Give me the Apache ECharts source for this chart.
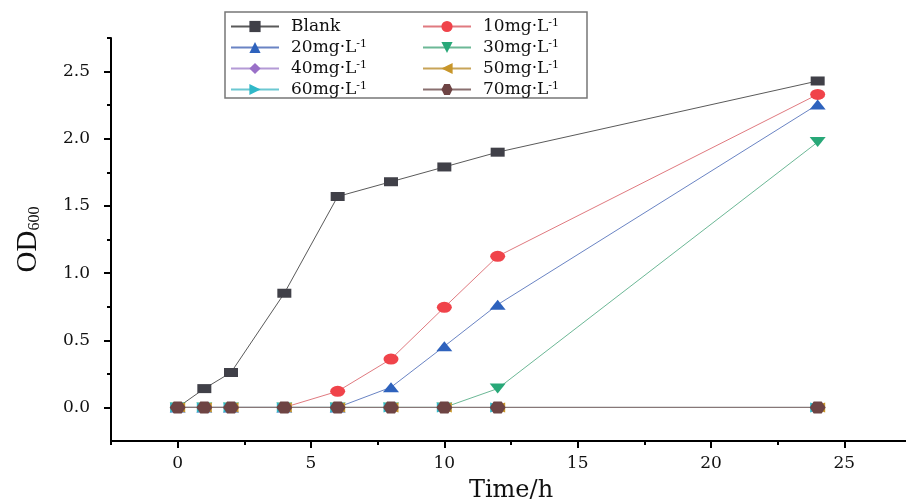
<!DOCTYPE html>
<html>
<head>
<meta charset="utf-8">
<style>
  html, body { margin: 0; padding: 0; background: #fff; }
  #chart { width: 906px; height: 502px; }
</style>
<script src="https://cdn.jsdelivr.net/npm/echarts@6/dist/echarts.min.js"></script>
</head>
<body>
<div id="chart"></div>
<script>
// Sampling times (h)
const times = [0, 1, 2, 4, 6, 8, 10, 12, 24];

// OD600 readings per treatment
const blank = [0, 0.14, 0.26, 0.85, 1.57, 1.68, 1.79, 1.90, 2.43];
const mg10 = [0, 0, 0, 0, 0.12, 0.36, 0.745, 1.125, 2.33];
const mg20 = [0, 0, 0, 0, 0, 0.15, 0.455, 0.765, 2.255];
const mg30 = [0, 0, 0, 0, 0, 0, 0, 0.14, 1.975];
const mg40 = [0, 0, 0, 0, 0, 0, 0, 0, 0];
const mg50 = [0, 0, 0, 0, 0, 0, 0, 0, 0];
const mg60 = [0, 0, 0, 0, 0, 0, 0, 0, 0];
const mg70 = [0, 0, 0, 0, 0, 0, 0, 0, 0];

// Series names
const names = ['Blank', '10mg·L-1', '20mg·L-1', '30mg·L-1', '40mg·L-1', '50mg·L-1', '60mg·L-1', '70mg·L-1'];

// Axis ticks
const xMajor = [0, 5, 10, 15, 20, 25];
const xMinor = [-2.5, 2.5, 7.5, 12.5, 17.5, 22.5];
const yMajor = [0, 0.5, 1.0, 1.5, 2.0, 2.5];
const yMinor = [0.25, 0.75, 1.25, 1.75, 2.25, 2.75];

const values = [blank, mg10, mg20, mg30, mg40, mg50, mg60, mg70];
const markColors = ['#404048', '#f0434a', '#2e62bd', '#28a878', '#9a70c8', '#c8962a', '#30b8c8', '#6e4444'];
const lineColors = ['#5a5a5a', '#e07a80', '#6a84c4', '#6cb896', '#b49ad6', '#c8a458', '#6cc8d2', '#8a7070'];
const hexagon = 'path://M-1,0 L-0.5,-0.87 L0.5,-0.87 L1,0 L0.5,0.87 L-0.5,0.87 Z';
const symbols = ['rect', 'circle', 'triangle', 'triangle', 'diamond', 'triangle', 'triangle', hexagon];
const rotations = [0, 0, 0, 180, 0, 90, -90, 0];
const sizes = [[14, 9], [15, 11], [16, 10], [16, 10], [14, 11], [10, 15], [10, 15], [16, 12]];

const serif = 'DejaVu Serif';

const series = names.map((name, i) => ({
  name: name,
  type: 'line',
  xAxisIndex: 0,
  yAxisIndex: 0,
  data: times.map((t, k) => [t, values[i][k]]),
  symbol: symbols[i],
  symbolRotate: rotations[i],
  symbolSize: sizes[i],
  showAllSymbol: true,
  lineStyle: { color: lineColors[i], width: 1 },
  itemStyle: { color: markColors[i] },
  emphasis: { disabled: true },
  animation: false
}));

function legendLabel(name) {
  if (name === 'Blank') return '{n|Blank}';
  const base = name.replace('-1', '');
  return '{n|' + base + '}{s|-1}';
}

const legendCommon = {
  orient: 'vertical',
  padding: 0,
  itemWidth: 48,
  itemHeight: 14,
  itemGap: 4,
  selectedMode: false,
  formatter: legendLabel,
  textStyle: {
    padding: [0, 0, 0, 7],
    rich: {
      n: { fontFamily: serif, fontSize: 17, color: '#111', lineHeight: 14 },
      s: { fontFamily: serif, fontSize: 11, color: '#111', lineHeight: 14, padding: [0, 0, 6, 0] }
    }
  }
};

const axisLineStyle = { show: true, onZero: false, lineStyle: { color: '#000', width: 2 } };

const option = {
  backgroundColor: '#fff',
  animation: false,
  grid: { left: 111, right: -5, top: 38, bottom: 61, containLabel: false, outerBoundsMode: 'none' },
  graphic: [{
    type: 'rect',
    shape: { x: 225, y: 12, width: 362, height: 86 },
    style: { fill: 'none', stroke: '#777', lineWidth: 1.5 },
    z: 1
  }],
  legend: [
    Object.assign({}, legendCommon, { left: 230, top: 18, data: [names[0], names[2], names[4], names[6]] }),
    Object.assign({}, legendCommon, { left: 422, top: 18, data: [names[1], names[3], names[5], names[7]] })
  ],
  xAxis: [{
    type: 'value',
    min: -2.5,
    max: 27.5,
    axisLine: axisLineStyle,
    splitLine: { show: false },
    axisTick: { show: true, customValues: xMajor, length: 7, lineStyle: { color: '#000', width: 2 } },
    axisLabel: { customValues: xMajor, fontFamily: serif, fontSize: 17, color: '#111', margin: 14 },
    name: 'Time/h',
    nameLocation: 'middle',
    nameGap: 38,
    nameTextStyle: { fontFamily: serif, fontSize: 24, color: '#111' }
  }, {
    type: 'value',
    min: -2.5,
    max: 27.5,
    position: 'bottom',
    axisLine: { show: false, onZero: false },
    splitLine: { show: false },
    axisTick: { show: true, customValues: xMinor, length: 4, lineStyle: { color: '#000', width: 2 } },
    axisLabel: { show: false }
  }],
  yAxis: [{
    type: 'value',
    min: -0.25,
    max: 2.75,
    axisLine: axisLineStyle,
    splitLine: { show: false },
    axisTick: { show: true, customValues: yMajor, length: 7, lineStyle: { color: '#000', width: 2 } },
    axisLabel: {
      customValues: yMajor,
      formatter: v => v.toFixed(1),
      fontFamily: serif, fontSize: 17, color: '#111', margin: 21
    },
    name: '{a|OD}{b|600}',
    nameLocation: 'middle',
    nameRotate: 90,
    nameGap: 68,
    nameTextStyle: {
      rich: {
        a: { fontFamily: 'Liberation Serif', fontSize: 29, color: '#111' },
        b: { fontFamily: 'Liberation Serif', fontSize: 16, color: '#111', padding: [14, 0, 0, 0] }
      }
    }
  }, {
    type: 'value',
    min: -0.25,
    max: 2.75,
    position: 'left',
    axisLine: { show: false, onZero: false },
    splitLine: { show: false },
    axisTick: { show: true, customValues: yMinor, length: 4, lineStyle: { color: '#000', width: 2 } },
    axisLabel: { show: false }
  }],
  series: series
};

const chart = echarts.init(document.getElementById('chart'), null, { renderer: 'canvas' });
chart.setOption(option);
</script>
</body>
</html>
